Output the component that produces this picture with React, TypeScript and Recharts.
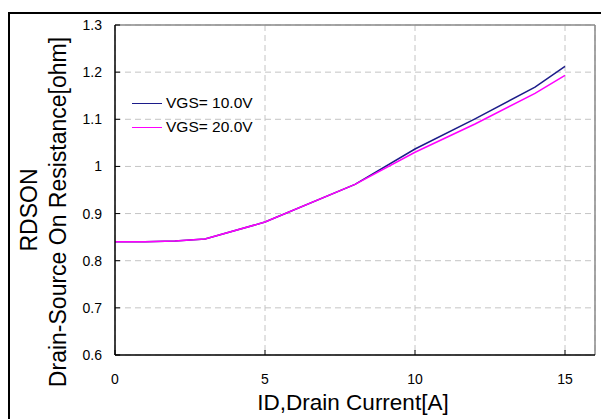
import { CartesianGrid, Label, Legend, Line, LineChart, ReferenceLine, XAxis, YAxis } from 'recharts'

const currents = [0, 1, 2, 3, 5, 8, 10, 12, 14, 15]
const vgs10 = [0.84, 0.84, 0.842, 0.846, 0.882, 0.962, 1.037, 1.101, 1.168, 1.212]
const vgs20 = [0.84, 0.84, 0.842, 0.846, 0.882, 0.962, 1.03, 1.09, 1.155, 1.193]
const xTicks = [0, 5, 10, 15]
const yTicks = [0.6, 0.7, 0.8, 0.9, 1.0, 1.1, 1.2, 1.3]

const SERIES = [
  { key: 'vgs10', label: 'VGS= 10.0V', color: '#1c1c8a' },
  { key: 'vgs20', label: 'VGS= 20.0V', color: '#ff00ff' },
]

const FONT = '"Liberation Sans", Arial, sans-serif'
const W = 601
const H = 419
const PLOT_LEFT = 115
const PLOT_BOTTOM = 355

const data = currents.map((id, i) => ({ id, vgs10: vgs10[i], vgs20: vgs20[i] }))

function fmtY(v: number) {
  return Number.isInteger(v) ? String(v) : v.toFixed(1)
}

function XTick({ x, y, payload }: any) {
  return (
    <g>
      <line x1={x} x2={x} y1={PLOT_BOTTOM} y2={PLOT_BOTTOM - 5} stroke="#000" />
      <text x={x} y={y} dy="0.71em" textAnchor="middle" fontSize={14} fontFamily={FONT} fill="#000">
        {payload.value}
      </text>
    </g>
  )
}

function YTick({ x, y, payload }: any) {
  return (
    <g>
      <line x1={PLOT_LEFT} x2={PLOT_LEFT + 5} y1={y} y2={y} stroke="#000" />
      <text x={x} y={y} dy="0.355em" textAnchor="end" fontSize={14} fontFamily={FONT} fill="#000">
        {fmtY(payload.value)}
      </text>
    </g>
  )
}

function YTitle() {
  return (
    <g fontFamily={FONT} fontSize={23} fill="#000">
      <text transform="translate(37,210) rotate(-90)" textAnchor="middle">RDSON</text>
      <text transform="translate(66,212) rotate(-90)" textAnchor="middle">
        Drain-Source On Resistance[ohm]
      </text>
    </g>
  )
}

function XTitle() {
  return (
    <text x={353} y={410} textAnchor="middle" fontFamily={FONT} fontSize={22.5} fill="#000">
      ID,Drain Current[A]
    </text>
  )
}

function LegendBox() {
  return (
    <div style={{ fontFamily: FONT, fontSize: 15.5, color: '#000' }}>
      {SERIES.map((s) => (
        <div key={s.key} style={{ display: 'flex', alignItems: 'center', height: 24 }}>
          <span style={{ width: 30, borderTop: `1.5px solid ${s.color}`, marginRight: 4 }} />
          <span>{s.label}</span>
        </div>
      ))}
    </div>
  )
}

export default function App() {
  return (
    <div style={{ position: 'fixed', left: 0, top: 0, width: W, height: H, overflow: 'hidden', background: '#fff' }}>
      <div
        style={{
          position: 'absolute',
          left: 8,
          top: 12,
          width: 700,
          height: 500,
          border: '2px solid #000',
        }}
      />
      <div style={{ position: 'absolute', left: 0, top: 0 }}>
        <LineChart width={W} height={H} data={data} margin={{ top: 25, right: 6, bottom: 34, left: 0 }}>
          <CartesianGrid strokeDasharray="6 4" stroke="#c4c4c4" />
          <XAxis
            dataKey="id"
            type="number"
            domain={[0, 16]}
            ticks={xTicks}
            height={30}
            tickSize={0}
            tickMargin={19}
            tick={<XTick />}
            axisLine={{ stroke: '#000', strokeWidth: 1.5 }}
            tickLine={false}
          >
            <Label content={XTitle} />
          </XAxis>
          <YAxis
            type="number"
            domain={[0.6, 1.3]}
            ticks={yTicks}
            width={115}
            tickSize={0}
            tickMargin={13}
            tick={<YTick />}
            axisLine={{ stroke: '#000', strokeWidth: 1.5 }}
            tickLine={false}
          >
            <Label content={YTitle} />
          </YAxis>
          <ReferenceLine y={1.3} stroke="#8a8a8a" strokeWidth={1.5} />
          <ReferenceLine x={16} stroke="#8a8a8a" strokeWidth={1.5} />
          <Legend
            layout="vertical"
            align="center"
            verticalAlign="middle"
            content={LegendBox}
            wrapperStyle={{ position: 'absolute', left: 132, top: 91, width: 'auto' }}
          />
          {SERIES.map((s) => (
            <Line
              key={s.key}
              dataKey={s.key}
              stroke={s.color}
              strokeWidth={1.5}
              dot={false}
              isAnimationActive={false}
            />
          ))}
        </LineChart>
      </div>
    </div>
  )
}
